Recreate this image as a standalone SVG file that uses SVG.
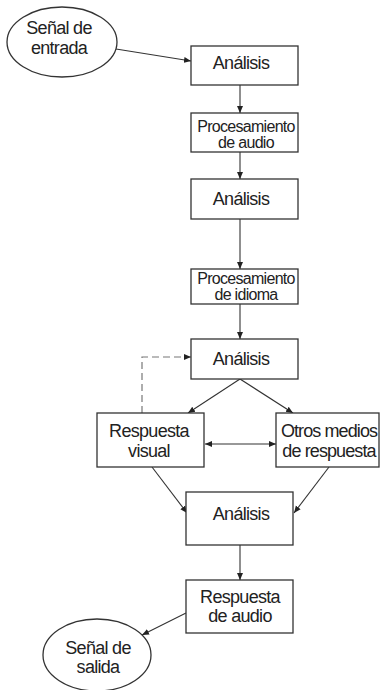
<svg xmlns="http://www.w3.org/2000/svg" width="380" height="690" viewBox="0 0 380 690">
<style>
.box{fill:#fff;stroke:#333;stroke-width:1.3}
.t{font-family:"Liberation Sans",Arial,sans-serif;font-size:18px;fill:#222;text-anchor:middle;letter-spacing:-0.7px}
.s{font-size:16px;letter-spacing:-0.7px}
.c{fill:none;stroke:#333;stroke-width:1.1}
.d{fill:none;stroke:#777;stroke-width:1.2;stroke-dasharray:7 4}
</style>
<defs>
<marker id="a" markerWidth="8" markerHeight="8" refX="7" refY="4" orient="auto" markerUnits="userSpaceOnUse">
<path d="M0,1 L7,4 L0,7 Z" fill="#222"/>
</marker>
<marker id="as" markerWidth="8" markerHeight="8" refX="1" refY="4" orient="auto" markerUnits="userSpaceOnUse">
<path d="M8,1 L1,4 L8,7 Z" fill="#222"/>
</marker>
</defs>
<g id="connectors">
<path class="c" d="M116,49 L191,61" marker-end="url(#a)"/>
<path class="c" d="M240,85 L240,113" marker-end="url(#a)"/>
<path class="c" d="M240,152 L240,179" marker-end="url(#a)"/>
<path class="c" d="M240,219 L240,269" marker-end="url(#a)"/>
<path class="c" d="M240,304 L240,339" marker-end="url(#a)"/>
<path class="c" d="M240,379 L188,413" marker-end="url(#a)"/>
<path class="c" d="M240,379 L293,413" marker-end="url(#a)"/>
<path class="c" d="M205,444 L276,444" marker-start="url(#as)" marker-end="url(#a)"/>
<path class="d" d="M142,413 L142,357 L191,357" marker-end="url(#a)"/>
<path class="c" d="M152,467 L187,513" marker-end="url(#a)"/>
<path class="c" d="M329,467 L294,513" marker-end="url(#a)"/>
<path class="c" d="M240,545 L240,580" marker-end="url(#a)"/>
<path class="c" d="M186,613 L142,635" marker-end="url(#a)"/>
</g>
<g id="senal-entrada">
<ellipse class="box" cx="62" cy="42" rx="55" ry="35"/>
<text class="t" x="59" y="34">Señal de</text>
<text class="t" x="59" y="54">entrada</text>
</g>
<g id="analisis1">
<rect class="box" x="191" y="46" width="107" height="39"/>
<text class="t" x="241" y="69">Análisis</text>
</g>
<g id="proc-audio">
<rect class="box" x="191" y="113" width="107" height="39"/>
<text class="t s" x="246" y="132">Procesamiento</text>
<text class="t s" x="246" y="148">de audio</text>
</g>
<g id="analisis2">
<rect class="box" x="191" y="179" width="107" height="40"/>
<text class="t" x="241" y="205">Análisis</text>
</g>
<g id="proc-idioma">
<rect class="box" x="191" y="269" width="107" height="35"/>
<text class="t s" x="246" y="284">Procesamiento</text>
<text class="t s" x="246" y="300">de idioma</text>
</g>
<g id="analisis3">
<rect class="box" x="191" y="339" width="107" height="40"/>
<text class="t" x="241" y="365">Análisis</text>
</g>
<g id="respuesta-visual">
<rect class="box" x="97" y="413" width="107" height="54"/>
<text class="t" x="149" y="437">Respuesta</text>
<text class="t" x="149" y="457">visual</text>
</g>
<g id="otros-medios">
<rect class="box" x="276" y="413" width="103" height="54"/>
<text class="t" x="329" y="437" style="letter-spacing:-0.9px">Otros medios</text>
<text class="t" x="329" y="457" style="letter-spacing:-0.9px">de respuesta</text>
</g>
<g id="analisis4">
<rect class="box" x="186" y="492" width="107" height="53"/>
<text class="t" x="241" y="520">Análisis</text>
</g>
<g id="respuesta-audio">
<rect class="box" x="186" y="580" width="107" height="53"/>
<text class="t" x="240" y="603">Respuesta</text>
<text class="t" x="240" y="622">de audio</text>
</g>
<g id="senal-salida">
<ellipse class="box" cx="97" cy="655" rx="54" ry="36"/>
<text class="t" x="98" y="654">Señal de</text>
<text class="t" x="98" y="673">salida</text>
</g>
</svg>
